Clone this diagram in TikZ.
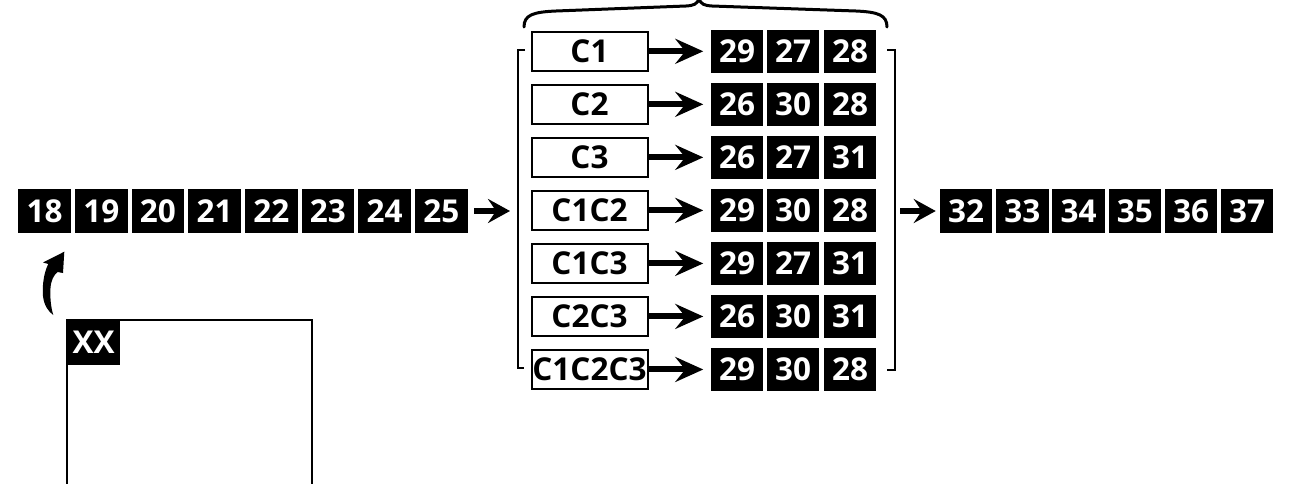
\documentclass[tikz,border=0pt]{standalone}
\usepackage{fontspec}
\setmainfont{Open Sans}
\usetikzlibrary{arrows.meta}
\tikzset{
  numbox/.style={fill=black, text=white, inner sep=0pt, minimum width=52.5pt, minimum height=43.5pt, font=\fontsize{31.5}{33}\selectfont\bfseries},
  cbox/.style={draw=black, line width=2pt, fill=white, inner sep=0pt, minimum width=116pt, minimum height=39pt, font=\fontsize{31.5}{33}\selectfont\bfseries},
  bigarrow/.style={line width=6pt, -{Stealth[length=28pt, width=25pt, inset=10pt]}},
  smallarrow/.style={line width=5.5pt, -{Stealth[length=22pt, width=24pt, inset=8pt]}},
  bracketline/.style={line width=2.2pt},
}
\begin{document}
\begin{tikzpicture}[x=1pt, y=-1pt]
\useasboundingbox (0,0) rectangle (1294,483);
% left row
\foreach \n [count=\i from 0] in {18,19,20,21,22,23,24,25}{
  \node[numbox] (L\n) at ({44.6+56.67*\i}, 211) {\n};
}
% right row
\foreach \n [count=\i from 0] in {32,33,34,35,36,37}{
  \node[numbox] (R\n) at ({966.2+56.2*\i}, 211) {\n};
}
% C rows
\foreach \lab/\a/\b/\c [count=\k from 0] in {C1/29/27/28, C2/26/30/28, C3/26/27/31, C1C2/29/30/28, C1C3/29/27/31, C2C3/26/30/31, C1C2C3/29/30/28}{
  \node[cbox] (c\k) at (589.5, {51.3+53.03*\k}) {\lab};
  \node[numbox] (a\k) at (737.2, {51.3+53.03*\k}) {\a};
  \node[numbox] (b\k) at (793.0, {51.3+53.03*\k}) {\b};
  \node[numbox] (d\k) at (850.0, {51.3+53.03*\k}) {\c};
  \draw[bigarrow, shorten >=7.5pt] (c\k.east) -- (a\k.west);
}
% brackets
\coordinate (lb) at (518,211);
\coordinate (rb) at (895,211);
\draw[bracketline] (525,50) -- (518,50) -- (518,368) -- (524,368);
\draw[bracketline] (887,50) -- (895,50) -- (895,370) -- (887,370);
% arrows to and from the group
\draw[smallarrow, shorten <=6.5pt, shorten >=8pt] (L25.east) -- (lb);
\draw[smallarrow, shorten <=5pt, shorten >=4pt] (rb) -- (R32.west);
% top brace
\draw[line width=3pt, line cap=round]
  (524,27) .. controls (524,15) and (533,12) .. (556,11) -- (686,6)
  .. controls (694,5.5) and (697,4) .. (699,-1)
  .. controls (701,4) and (704,5.5) .. (712,6) -- (856,11)
  .. controls (878,12) and (887,15) .. (887,27);
% lower-left panel
\draw[line width=2pt] (66.7,490) -- (66.7,320) -- (311.7,320) -- (311.7,490);
\node[numbox, minimum width=53.3pt, minimum height=45pt, anchor=north west] (xx) at (66.7,319.3) {XX};
% curved arrow
\fill (64.3,251.7) -- (43,262.5) -- (48.3,264)
  .. controls (44,272) and (42,286) .. (43,296)
  .. controls (44,306) and (49,312) .. (53.3,315)
  .. controls (50.5,306) and (50,296) .. (50.5,288)
  .. controls (51,280) and (54,275) .. (57.5,272)
  -- (63,273) -- cycle;
\end{tikzpicture}
\end{document}
